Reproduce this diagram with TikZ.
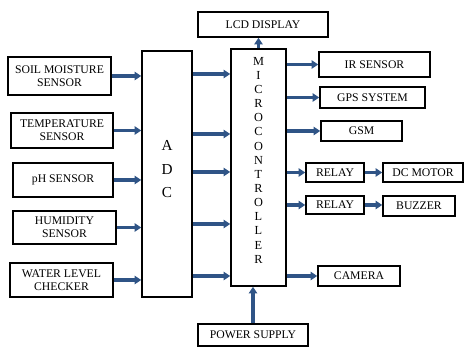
\documentclass[tikz,border=0pt]{standalone}
\usepackage{fontspec}
\setmainfont{Liberation Serif}
\usetikzlibrary{arrows.meta}
\definecolor{arrblue}{HTML}{2F5486}

\begin{document}
\begin{tikzpicture}[x=0.03cm, y=-0.03cm, >={Triangle[length=5.5pt, width=7pt]},
    blk/.style 2 args={draw, line width=1.4pt, minimum width=#1*0.03cm, minimum height=#2*0.03cm,
        inner sep=1pt, align=center, font=\fontsize{10}{11}\selectfont},
    link/.style={->, arrblue, line width=3pt}]
    \useasboundingbox (0, 0) rectangle (466, 347);

    % 传感器
    \node[blk={103}{38}] (soil) at (59.5, 76) {SOIL MOISTURE\\SENSOR};
    \node[blk={102}{35}] (temp) at (62, 130.5) {TEMPERATURE\\SENSOR};
    \node[blk={100}{34}] (ph) at (63, 180) {pH SENSOR};
    \node[blk={103}{33}] (humid) at (64.5, 227.5) {HUMIDITY\\SENSOR};
    \node[blk={103}{34}] (water) at (61.5, 280) {WATER LEVEL\\CHECKER};

    % ADC 和 单片机
    \node[blk={50}{246}] (adc) at (167, 174) {};
    \node[font=\fontsize{13}{13}\selectfont] (adcA) at (167, 145) {A};
    \node[font=\fontsize{13}{13}\selectfont] (adcD) at (167, 170) {D};
    \node[font=\fontsize{13}{13}\selectfont] (adcC) at (167, 193) {C};
    \node[blk={55}{237}] (mcu) at (258.5, 167.5) {};
    \foreach \ch [count=\i] in {M,I,C,R,O,C,O,N,T,R,O,L,L,E,R} {
        \node[font=\fontsize{10.5}{10.5}\selectfont] (mc\i) at (258.5, 47 + 14.15*\i) {\ch};
    }

    % 输出设备
    \node[blk={130}{25}] (lcd) at (263, 24.5) {LCD DISPLAY};
    \node[blk={111}{25}] (ir) at (374.5, 64.5) {IR SENSOR};
    \node[blk={105}{21}] (gps) at (372.5, 97.5) {GPS SYSTEM};
    \node[blk={81}{20}] (gsm) at (361.5, 131) {GSM};
    \node[blk={58}{19}] (relayA) at (335, 172.5) {RELAY};
    \node[blk={80}{19}] (dcm) at (423, 172.5) {DC MOTOR};
    \node[blk={58}{18}] (relayB) at (335, 205) {RELAY};
    \node[blk={72}{20}] (buzz) at (419, 206) {BUZZER};
    \node[blk={82}{20}] (cam) at (359, 276) {CAMERA};
    \node[blk={110}{22}] (power) at (253, 335) {POWER SUPPLY};

    % 传感器到 ADC
    \foreach \s in {soil, temp, ph, humid, water} {
        \draw[link] (\s.east) -- (\s.east -| adc.west);
    }

    % ADC 到单片机
    \foreach \yy in {74, 134, 172, 224, 276} {
        \draw[link] (adc.east |- 0, \yy) -- (mcu.west |- 0, \yy);
    }

    % 单片机到输出
    \foreach \d in {ir, gps, gsm, relayA, relayB, cam} {
        \draw[link] (mcu.east |- \d.west) -- (\d.west);
    }
    \draw[link] (relayA.east) -- (dcm.west);
    \draw[link] (relayB.east) -- (relayB.east -| buzz.west);
    \draw[link] (mcu.north) -- (mcu.north |- lcd.south);
    \draw[link] (power.north) -- (power.north |- mcu.south);
\end{tikzpicture}
\end{document}
